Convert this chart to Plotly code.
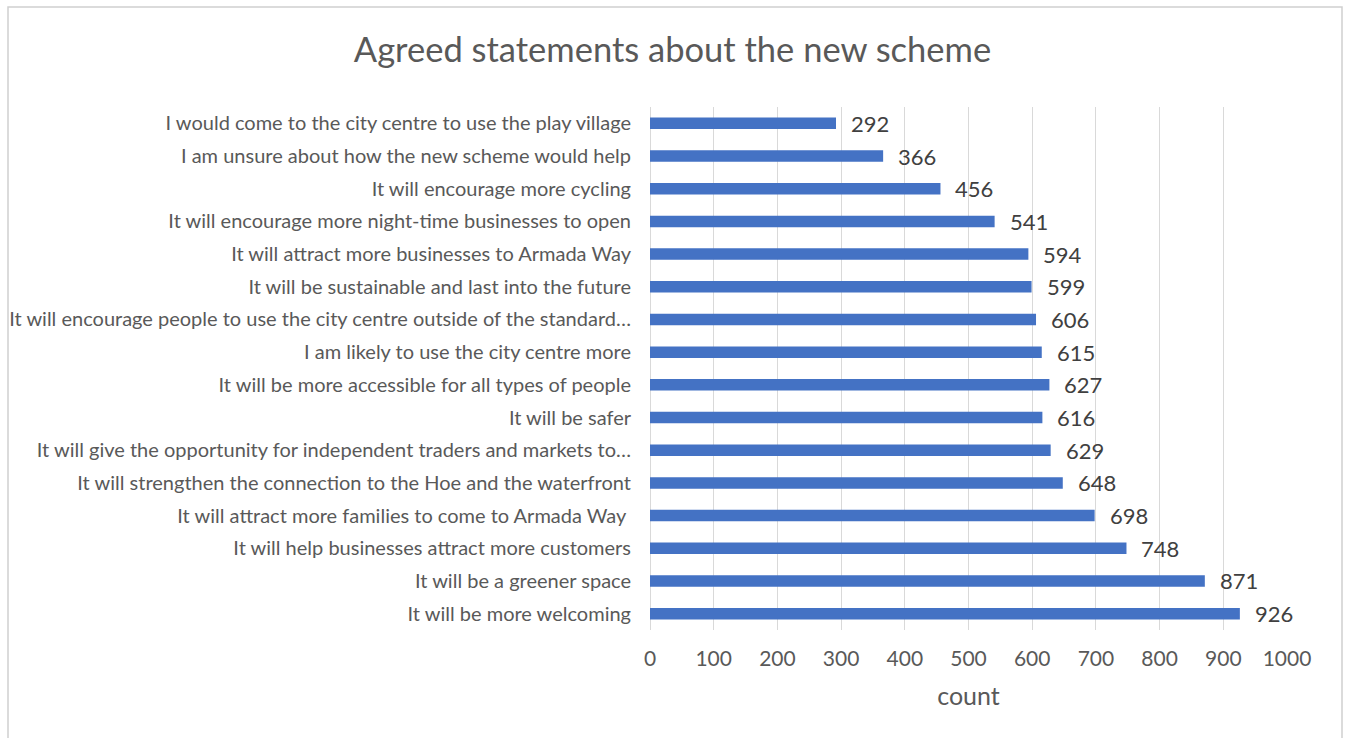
import plotly.graph_objects as go

categories = [
    "I would come to the city centre to use the play village",
    "I am unsure about how the new scheme would help",
    "It will encourage more cycling",
    "It will encourage more night-time businesses to open",
    "It will attract more businesses to Armada Way",
    "It will be sustainable and last into the future",
    "It will encourage people to use the city centre outside of the standard…",
    "I am likely to use the city centre more",
    "It will be more accessible for all types of people",
    "It will be safer",
    "It will give the opportunity for independent traders and markets to…",
    "It will strengthen the connection to the Hoe and the waterfront",
    "It will attract more families to come to Armada Way ",
    "It will help businesses attract more customers",
    "It will be a greener space",
    "It will be more welcoming",
]
counts = [292, 366, 456, 541, 594, 599, 606, 615, 627, 616, 629, 648, 698, 748, 871, 926]
x_ticks = [0, 100, 200, 300, 400, 500, 600, 700, 800, 900, 1000]

FONT = "Lato, 'Open Sans', sans-serif"

fig = go.Figure()
fig.add_trace(go.Bar(
    y=categories,
    x=counts,
    orientation="h",
    marker=dict(color="#4472C4", line=dict(width=0)),
    width=0.35,
    hoverinfo="x+y",
))

annotations = []
for c, v in zip(categories, counts):
    annotations.append(dict(
        x=v, y=c, xref="x", yref="y", text=str(v),
        showarrow=False, xanchor="left", yanchor="middle",
        xshift=13, font=dict(family=FONT, size=22, color="#404040"),
    ))

W, H = 1345, 738
L, R, T, B = 650, 58, 107, 108
pw, ph = W - L - R, H - T - B

fig.update_layout(
    width=W, height=H,
    margin=dict(l=L, r=R, t=T, b=B, autoexpand=False),
    paper_bgcolor="white", plot_bgcolor="white",
    showlegend=False,
    title=dict(
        text="Agreed statements about the new scheme",
        x=0.5, xref="container", xanchor="center",
        y=1 - 50 / H, yref="container", yanchor="middle",
        font=dict(family=FONT, size=34.5, color="#595959"),
    ),
    xaxis=dict(
        range=[0, 1000], tickvals=x_ticks,
        showgrid=True, gridcolor="#D9D9D9", gridwidth=1,
        zeroline=True, zerolinecolor="#D9D9D9", zerolinewidth=1,
        showline=False, ticks="",
        tickfont=dict(family=FONT, size=21, color="#595959"),
        ticklabelstandoff=14,
        title=dict(text="count", font=dict(family=FONT, size=25, color="#595959"), standoff=18),
        automargin=False,
        fixedrange=True,
    ),
    yaxis=dict(
        autorange="reversed",
        showgrid=False, showline=False, ticks="",
        tickfont=dict(family=FONT, size=20, color="#595959"),
        ticklabelstandoff=18,
        automargin=False,
        fixedrange=True,
    ),
    annotations=annotations,
    shapes=[dict(
        type="rect", xref="paper", yref="paper",
        x0=(8 - L) / pw, x1=(W - 3 - L) / pw,
        y0=(H - B - (H + 10)) / ph, y1=(H - B - 7) / ph,
        line=dict(color="#D0D0D0", width=1.5), fillcolor="rgba(0,0,0,0)",
        layer="below",
    )],
)

fig.write_html(
    "out.html",
    config={"displayModeBar": False},
    post_script="document.body.style.margin='0';document.body.style.overflow='hidden';",
)
